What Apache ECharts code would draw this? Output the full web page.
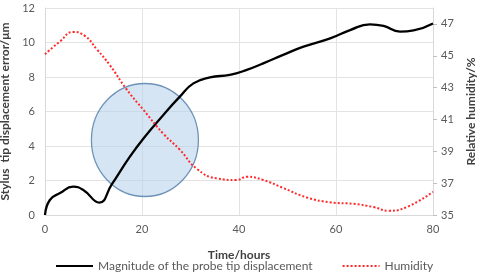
<!DOCTYPE html>
<html>
<head>
<meta charset="UTF-8">
<title>Probe tip displacement and humidity</title>
<script type="text/javascript" src="https://cdn.jsdelivr.net/npm/echarts@6/dist/echarts.min.js"></script>
<style>
  html, body { margin: 0; padding: 0; background: #fff; }
  #main { width: 481px; height: 274px; }
</style>
</head>
<body>
<div id="main"></div>
<script type="text/javascript">
// time (hours) and displacement error (um)
var dispTime = [0, 1.0, 3.1, 5.8, 7.9, 11.2, 13.7, 17.5, 20.3, 24.4, 27.8, 30.6, 34.0, 38.1, 41.6, 45.0, 49.1, 53.3, 58.8, 62.9, 67.0, 69.8, 73.2, 76.0, 80];
var dispValue = [0, 0.87, 1.27, 1.64, 1.45, 0.72, 1.74, 3.38, 4.44, 5.8, 6.86, 7.63, 7.98, 8.12, 8.41, 8.79, 9.28, 9.76, 10.24, 10.72, 11.05, 10.96, 10.63, 10.7, 11.1];

// time (hours) and relative humidity (%)
var humTime = [0, 3.1, 5.8, 8.2, 10.7, 13.4, 16.8, 20.3, 24.4, 27.8, 31.3, 35.4, 39.5, 41.6, 45.0, 49.1, 54.0, 58.8, 63.6, 67.7, 70.8, 74.6, 80];
var humValue = [45.1, 45.9, 46.5, 46.25, 45.4, 44.4, 42.9, 41.6, 40.1, 39.1, 37.9, 37.3, 37.2, 37.4, 37.2, 36.7, 36.1, 35.8, 35.7, 35.5, 35.27, 35.5, 36.46];

// highlighted region (circle) centre
var circleCenter = [20.6, 4.35];

var dispName = 'Magnitude of the probe tip displacement';
var humName = 'Humidity';

function pairs(xs, ys) {
  var out = [];
  for (var i = 0; i < xs.length; i++) out.push([xs[i], ys[i]]);
  return out;
}

var font = 'Lato, "Open Sans", sans-serif';
var myChart = echarts.init(document.getElementById('main'));
var option = {
  animation: false,
  textStyle: { fontFamily: font },
  grid: { left: 45, right: 48, top: 8, bottom: 59, containLabel: false, outerBoundsMode: 'none' },
  legend: {
    bottom: -3,
    left: 50,
    itemWidth: 37,
    itemHeight: 10,
    itemGap: 29,
    itemStyle: { color: 'rgba(0,0,0,0)', borderWidth: 0 },
    textStyle: { color: '#595959', fontSize: 12, fontFamily: font },
    data: [dispName, humName]
  },
  xAxis: {
    type: 'value',
    min: 0, max: 80, interval: 20,
    name: 'Time/hours',
    nameLocation: 'middle',
    nameGap: 34,
    nameTextStyle: { color: '#404040', fontSize: 12, fontWeight: 'bold' },
    axisLine: { show: true, lineStyle: { color: '#d9d9d9' } },
    axisTick: { show: false },
    axisLabel: { color: '#595959', fontSize: 11, margin: 9 },
    splitLine: { show: true, lineStyle: { color: '#e3e3e3' } }
  },
  yAxis: [{
    type: 'value',
    min: 0, max: 12, interval: 2,
    name: 'Stylus  tip displacement error/μm',
    nameLocation: 'middle',
    nameGap: 28,
    nameTextStyle: { color: '#404040', fontSize: 12, fontWeight: 'bold' },
    axisLine: { show: true, lineStyle: { color: '#d9d9d9' } },
    axisTick: { show: false },
    axisLabel: { color: '#595959', fontSize: 11, margin: 10 },
    splitLine: { show: true, lineStyle: { color: '#e3e3e3' } }
  }, {
    type: 'value',
    min: 35, max: 48, interval: 2,
    name: 'Relative humidity/%',
    nameLocation: 'middle',
    nameGap: 31,
    nameTextStyle: { color: '#404040', fontSize: 12, fontWeight: 'bold' },
    axisLine: { show: true, lineStyle: { color: '#d9d9d9' } },
    axisTick: { show: true, length: 4, inside: false, lineStyle: { color: '#bfbfbf' } },
    axisLabel: { color: '#595959', fontSize: 11, margin: 8, showMaxLabel: false },
    splitLine: { show: false }
  }],
  series: [{
    name: 'circle',
    type: 'scatter',
    z: 1,
    silent: true,
    symbol: 'circle',
    symbolSize: [107, 113],
    itemStyle: { color: 'rgba(183,210,236,0.72)', borderColor: '#4f7aa6', borderWidth: 1.3 },
    data: [circleCenter]
  }, {
    name: dispName,
    type: 'line',
    z: 3,
    smooth: 0.5,
    symbol: 'none',
    lineStyle: { color: '#000', width: 2.3 },
    itemStyle: { color: '#000' },
    data: pairs(dispTime, dispValue)
  }, {
    name: humName,
    type: 'line',
    yAxisIndex: 1,
    z: 3,
    smooth: 0.5,
    symbol: 'none',
    lineStyle: { color: '#ff2a2a', width: 2, type: [2, 2] },
    itemStyle: { color: '#ff2a2a' },
    data: pairs(humTime, humValue)
  }]
};
myChart.setOption(option);
</script>
</body>
</html>
